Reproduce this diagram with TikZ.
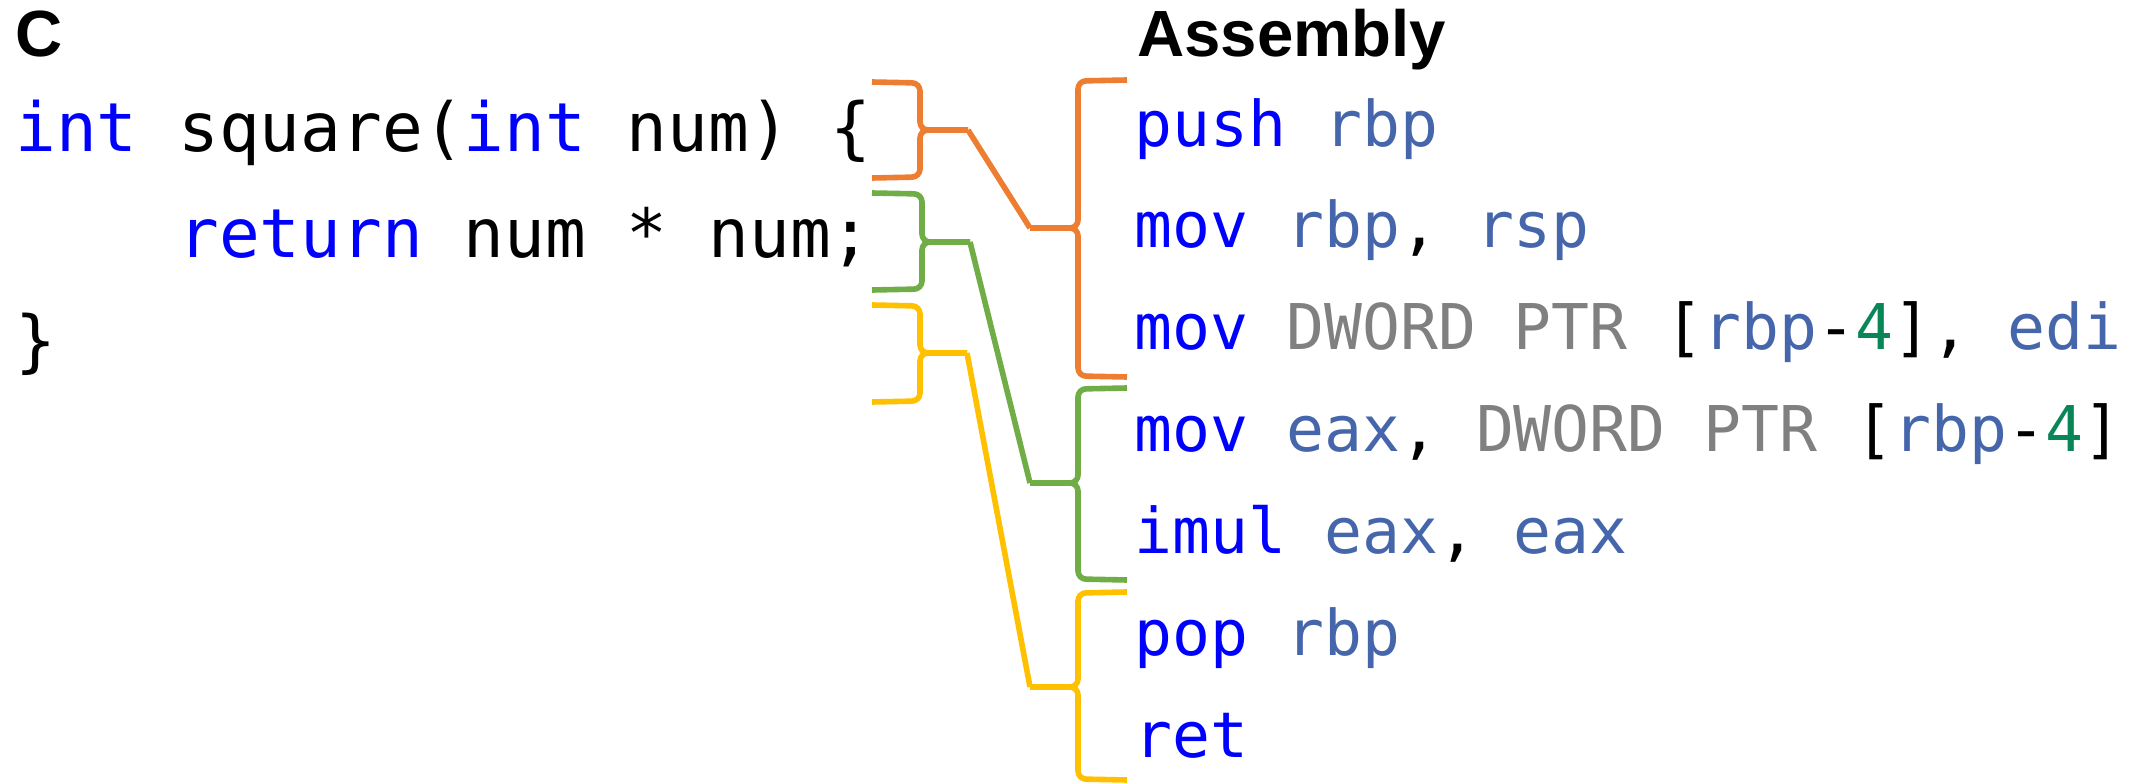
\documentclass[tikz,border=0pt]{standalone}
\usepackage{fontspec}
\setmainfont{Liberation Sans}
\setmonofont{DejaVu Sans Mono}

\definecolor{kwblue}{RGB}{0,0,255}
\definecolor{regblue}{RGB}{70,102,172}
\definecolor{ptrgrey}{RGB}{128,128,128}
\definecolor{litgreen}{RGB}{9,134,88}
\definecolor{brorange}{RGB}{237,125,49}
\definecolor{brgreen}{RGB}{112,173,71}
\definecolor{bryellow}{RGB}{255,192,0}

\newcommand{\kw}[1]{\textcolor{kwblue}{#1}}
\newcommand{\rgs}[1]{\textcolor{regblue}{#1}}
\newcommand{\szp}[1]{\textcolor{ptrgrey}{#1}}
\newcommand{\lit}[1]{\textcolor{litgreen}{#1}}

\tikzset{
  head/.style={anchor=base west, inner sep=0pt, font=\bfseries\fontsize{49}{59}\selectfont},
  code/.style={anchor=base west, inner sep=0pt, font=\ttfamily\fontsize{50.8}{60}\selectfont},
  asm/.style={anchor=base west, inner sep=0pt, font=\ttfamily\fontsize{47.3}{57}\selectfont},
  brace/.style={line width=4.2pt, rounded corners=6pt},
  link/.style={line width=4.2pt, line join=round},
}

\begin{document}
\begin{tikzpicture}[x=0.75pt,y=0.75pt,yscale=-1,xscale=1]
\useasboundingbox (0,0) rectangle (2143,784);

% Text Node
\draw (15,57) node [head] (ctitle) {C};
% Text Node
\draw (1137,57) node [head] (asmtitle) {Assembly};

% C source
\draw (15,152) node [code] (cline1) {\kw{int} square(\kw{int} num) \{};
\draw (15,258) node [code] (cline2) {\phantom{xxxx}\kw{return} num * num;};
\draw (15,364) node [code] (cline3) {\}};

% Assembly listing
\draw (1134,147) node [asm] (aline1) {\kw{push} \rgs{rbp}};
\draw (1134,248) node [asm] (aline2) {\kw{mov} \rgs{rbp}, \rgs{rsp}};
\draw (1134,350) node [asm] (aline3) {\kw{mov} \szp{DWORD PTR} [\rgs{rbp}-\lit{4}], \rgs{edi}};
\draw (1134,451) node [asm] (aline4) {\kw{mov} \rgs{eax}, \szp{DWORD PTR} [\rgs{rbp}-\lit{4}]};
\draw (1134,553) node [asm] (aline5) {\kw{imul} \rgs{eax}, \rgs{eax}};
\draw (1134,655) node [asm] (aline6) {\kw{pop} \rgs{rbp}};
\draw (1134,757) node [asm] (aline7) {\kw{ret}};

% brace tips
\coordinate (ctip1) at (968,130);
\coordinate (ctip2) at (970,242);
\coordinate (ctip3) at (967,353);
\coordinate (atip1) at (1030,228);
\coordinate (atip2) at (1030,483);
\coordinate (atip3) at (1030,687);

%Orange braces: function header
\draw [brace, brorange] (872,82) -- (920,83) -- (920,130) -- (ctip1);
\draw [brace, brorange] (872,178) -- (920,177) -- (920,130) -- (ctip1);
\draw [brace, brorange] (1127,80) -- (1078,81) -- (1078,228) -- (atip1);
\draw [brace, brorange] (1127,377) -- (1078,376) -- (1078,228) -- (atip1);
\draw [link, brorange] (ctip1) -- (atip1);

%Green braces: return statement
\draw [brace, brgreen] (872,193) -- (922,194) -- (922,242) -- (ctip2);
\draw [brace, brgreen] (872,290) -- (922,289) -- (922,242) -- (ctip2);
\draw [brace, brgreen] (1127,388) -- (1078,389) -- (1078,483) -- (atip2);
\draw [brace, brgreen] (1127,580) -- (1078,579) -- (1078,483) -- (atip2);
\draw [link, brgreen] (ctip2) -- (atip2);

%Yellow braces: closing brace
\draw [brace, bryellow] (872,305) -- (920,306) -- (920,353) -- (ctip3);
\draw [brace, bryellow] (872,402) -- (920,401) -- (920,353) -- (ctip3);
\draw [brace, bryellow] (1127,592) -- (1078,593) -- (1078,687) -- (atip3);
\draw [brace, bryellow] (1127,780) -- (1078,779) -- (1078,687) -- (atip3);
\draw [link, bryellow] (ctip3) -- (atip3);

\end{tikzpicture}
\end{document}
